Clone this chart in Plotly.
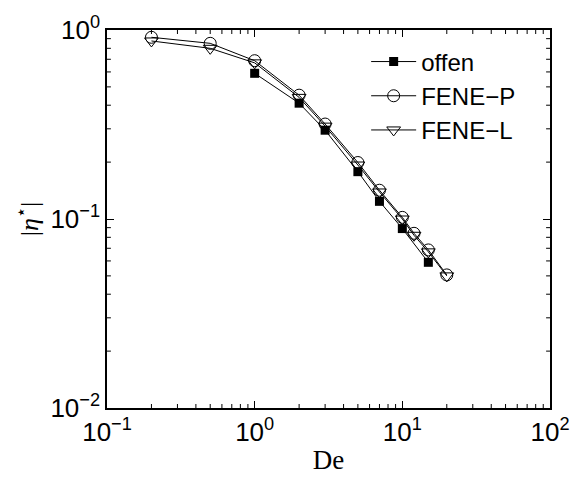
import plotly.graph_objects as go

# Data
de_offen = [1, 2, 3, 5, 7, 10, 15]
eta_offen = [0.59, 0.41, 0.295, 0.178, 0.124, 0.089, 0.059]

de_fene = [0.2, 0.5, 1, 2, 3, 5, 7, 10, 12, 15, 20]
eta_fenep = [0.915, 0.85, 0.688, 0.452, 0.318, 0.199, 0.142, 0.102, 0.084, 0.0686, 0.0506]
eta_fenel = [0.875, 0.80, 0.67, 0.44, 0.31, 0.193, 0.139, 0.100, 0.082, 0.067, 0.050]

x_ticks = [0.1, 1, 10, 100]
x_ticktext = ["10<sup>−1</sup>", "10<sup>0</sup>", "10<sup>1</sup>", "10<sup>2</sup>"]
y_ticks = [0.01, 0.1, 1]
y_ticktext = ["10<sup>−2</sup>", "10<sup>−1</sup>", "10<sup>0</sup>"]

def minor_vals(decades):
    return [m * 10.0 ** d for d in decades for m in range(2, 10)]

W, H = 582, 485
ML, MR, MT, MB = 107, 21, 30, 77
PW, PH = W - ML - MR, H - MT - MB
MINOR_LEN = 4

fig = go.Figure()
line = dict(color="black", width=1)
fig.add_trace(go.Scatter(x=de_offen, y=eta_offen, mode="lines+markers", name="offen",
                         line=line, marker=dict(symbol="square", size=9, color="black")))
fig.add_trace(go.Scatter(x=de_fene, y=eta_fenep, mode="lines+markers", name="FENE−P",
                         line=line, marker=dict(symbol="circle-open", size=12, color="black",
                                                line=dict(width=1))))
fig.add_trace(go.Scatter(x=de_fene, y=eta_fenel, mode="lines+markers", name="FENE−L",
                         line=line, marker=dict(symbol="triangle-down-open", size=12, color="black",
                                                line=dict(width=1))))

axis_common = dict(type="log", showgrid=False, zeroline=False, showline=True, linecolor="black",
                   linewidth=1.5, mirror="ticks", ticks="inside", ticklen=7, tickcolor="black",
                   tickfont=dict(family="Liberation Sans, Arial", size=26, color="black"))

fig.update_xaxes(range=[-1, 2], tickmode="array", tickvals=x_ticks, ticktext=x_ticktext,
                 title=dict(text="De", font=dict(family="Liberation Serif, Times New Roman", size=27, color="black"), standoff=4),
                 **axis_common)
fig.update_yaxes(range=[-2, 0], tickmode="array", tickvals=y_ticks, ticktext=y_ticktext,
                 title=dict(text="|<i>η</i><sup>⋆</sup>|", font=dict(family="Liberation Serif, Times New Roman", size=26, color="black"), standoff=4),
                 **axis_common)

# minor tick marks (inside, on all four sides)
shapes = []
tl = dict(color="black", width=1)
fy = MINOR_LEN / PH
fx = MINOR_LEN / PW
for v in minor_vals([-1, 0, 1]):
    shapes.append(dict(type="line", xref="x", yref="paper", x0=v, x1=v, y0=0, y1=fy, line=tl))
    shapes.append(dict(type="line", xref="x", yref="paper", x0=v, x1=v, y0=1, y1=1 - fy, line=tl))
for v in minor_vals([-2, -1]):
    shapes.append(dict(type="line", xref="paper", yref="y", y0=v, y1=v, x0=0, x1=fx, line=tl))
    shapes.append(dict(type="line", xref="paper", yref="y", y0=v, y1=v, x0=1, x1=1 - fx, line=tl))

fig.update_layout(
    width=W, height=H,
    margin=dict(l=ML, r=MR, t=MT, b=MB),
    plot_bgcolor="white", paper_bgcolor="white",
    shapes=shapes,
    legend=dict(x=0.585, y=0.975, xanchor="left", yanchor="top", bgcolor="rgba(0,0,0,0)",
                font=dict(family="Liberation Sans, Arial", size=24, color="black"),
                itemwidth=45, tracegroupgap=0),
    showlegend=True,
)

fig.write_html("out.html")
